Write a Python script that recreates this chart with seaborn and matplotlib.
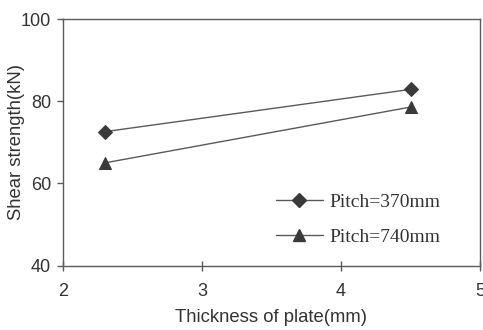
import matplotlib
matplotlib.use("Agg")
import matplotlib.pyplot as plt
import seaborn as sns
import pandas as pd
from matplotlib.lines import Line2D

thickness = [2.3, 4.5]
pitch_370 = [72.6, 82.9]
pitch_740 = [65.0, 78.6]
series_labels = ["Pitch=370mm", "Pitch=740mm"]
x_ticks = [2, 3, 4, 5]
y_ticks = [40, 60, 80, 100]

df = pd.DataFrame({
    "thickness": thickness * 2,
    "strength": pitch_370 + pitch_740,
    "series": [series_labels[0]] * len(thickness) + [series_labels[1]] * len(thickness),
})

sns.set_theme(style="white")
plt.rcParams["font.family"] = ["Liberation Sans", "DejaVu Sans"]

text_c = "#333333"
line_c = "#5a5a5a"
mark_c = "#3a3a3a"

fig = plt.figure(figsize=(4.83, 3.30), dpi=100)
ax = fig.add_axes([0.13, 0.195, 0.864, 0.747])

sns.lineplot(data=df, x="thickness", y="strength", hue="series", style="series",
             markers={series_labels[0]: "D", series_labels[1]: "^"}, dashes=False,
             palette=[line_c, line_c], linewidth=1.0, ax=ax, legend=False)
for ln, ms in zip(ax.get_lines(), [7, 9]):
    ln.set_markersize(ms)
    ln.set_markerfacecolor(mark_c)
    ln.set_markeredgecolor(mark_c)

ax.set_xlim(2, 5)
ax.set_ylim(40, 100)
ax.set_xticks(x_ticks)
ax.set_yticks(y_ticks)
ax.set_xlabel("Thickness of plate(mm)", fontsize=13.3, color=text_c)
ax.set_ylabel("Shear strength(kN)", fontsize=13.3, color=text_c)
ax.xaxis.set_label_coords(0.5, -0.175)
ax.yaxis.set_label_coords(-0.09, 0.5)
ax.tick_params(axis="x", direction="inout", length=7, width=1, colors=line_c,
               labelcolor=text_c, labelsize=13, pad=9, bottom=True)
ax.tick_params(axis="y", direction="out", length=4, width=1, colors=line_c,
               labelcolor=text_c, labelsize=13, pad=4.5, left=True)
for s in ax.spines.values():
    s.set_color(line_c)
    s.set_linewidth(1.0)

handles = [Line2D([], [], color=line_c, lw=1.0, marker="D", markersize=7,
                  markerfacecolor=mark_c, markeredgecolor=mark_c),
           Line2D([], [], color=line_c, lw=1.0, marker="^", markersize=9,
                  markerfacecolor=mark_c, markeredgecolor=mark_c)]
leg = ax.legend(handles, series_labels, loc="center left", bbox_to_anchor=(0.468, 0.187),
                frameon=False, handlelength=2.45, handletextpad=0.32, labelspacing=0.9,
                prop={"family": ["Liberation Serif"], "size": 14})
for t in leg.get_texts():
    t.set_color(text_c)

fig.savefig("out.png", dpi=100)
